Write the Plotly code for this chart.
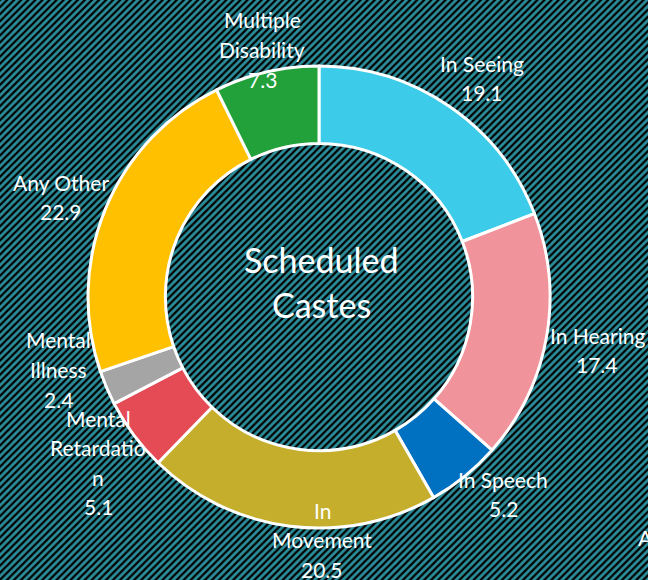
import plotly.graph_objects as go

W, H = 648, 580

categories = ["In Seeing", "In Hearing", "In Speech", "In Movement",
              "Mental Retardation", "Mental Illness", "Any Other", "Multiple Disability"]
values = [19.1, 17.4, 5.2, 20.5, 5.1, 2.4, 22.9, 7.3]
colors = ["#3CCBE8", "#F0939A", "#0070C0", "#C4AE2C",
          "#E54B55", "#A5A5A5", "#FFC000", "#22A03A"]
center_title = ["Scheduled", "Castes"]

# label layout (wrapped lines as rendered in the reference), pixel centre x / first-line y
label_lines = [
    ["In Seeing", "19.1"],
    ["In Hearing", "17.4"],
    ["In Speech", "5.2"],
    ["In", "Movement", "20.5"],
    ["Mental", "Retardatio", "n", "5.1"],
    ["Mental", "Illness", "2.4"],
    ["Any Other", "22.9"],
    ["Multiple", "Disability", "7.3"],
]
label_pos = [(482, 63), (597, 335), (503, 479), (322, 510),
             (98, 418), (58, 340), (61, 182), (262, 20)]
LINE_STEP = 29.5
FONT = "Lato, Open Sans, sans-serif"

fig = go.Figure()

# hatched background covering the whole canvas
fig.add_trace(go.Bar(
    x=[0.5], y=[1], width=[1], base=[0],
    marker=dict(color="#2B8E9A", line=dict(width=0),
                pattern=dict(shape="/", size=5, solidity=0.45,
                             fgcolor="#000000", bgcolor="#2B8E9A", fillmode="replace")),
    hoverinfo="skip", showlegend=False,
))

cx, cy, r = 319, 297, 231
fig.add_trace(go.Pie(
    labels=categories, values=values, sort=False, direction="clockwise",
    rotation=0, hole=0.665, textinfo="none", hoverinfo="label+value",
    marker=dict(colors=colors, line=dict(color="white", width=3)),
    domain=dict(x=[(cx - r) / W, (cx + r) / W], y=[(H - cy - r) / H, (H - cy + r) / H]),
    showlegend=False,
))

annotations = []
for lines, (px, py) in zip(label_lines, label_pos):
    for i, line in enumerate(lines):
        annotations.append(dict(
            x=px / W, y=1 - (py + i * LINE_STEP) / H, xref="paper", yref="paper",
            text=line, showarrow=False, xanchor="center", yanchor="middle",
            font=dict(family=FONT, size=21, color="white")))

for i, line in enumerate(center_title):
    annotations.append(dict(
        x=321 / W, y=1 - (259 + i * 45) / H, xref="paper", yref="paper",
        text=line, showarrow=False, xanchor="center", yanchor="middle",
        font=dict(family=FONT, size=34, color="white")))

# truncated label from a neighbouring chart at the right edge
annotations.append(dict(x=636 / W, y=1 - 537 / H, xref="paper", yref="paper",
                        text="A", showarrow=False, xanchor="left", yanchor="middle",
                        font=dict(family=FONT, size=21, color="white")))

fig.update_layout(
    width=W, height=H, margin=dict(l=0, r=0, t=0, b=0),
    paper_bgcolor="#2B8E9A", plot_bgcolor="rgba(0,0,0,0)",
    xaxis=dict(range=[0, 1], visible=False, fixedrange=True),
    yaxis=dict(range=[0, 1], visible=False, fixedrange=True),
    bargap=0, annotations=annotations,
)

fig.write_html("out.html", config={"displayModeBar": False},
               post_script="document.body.style.margin='0';")
